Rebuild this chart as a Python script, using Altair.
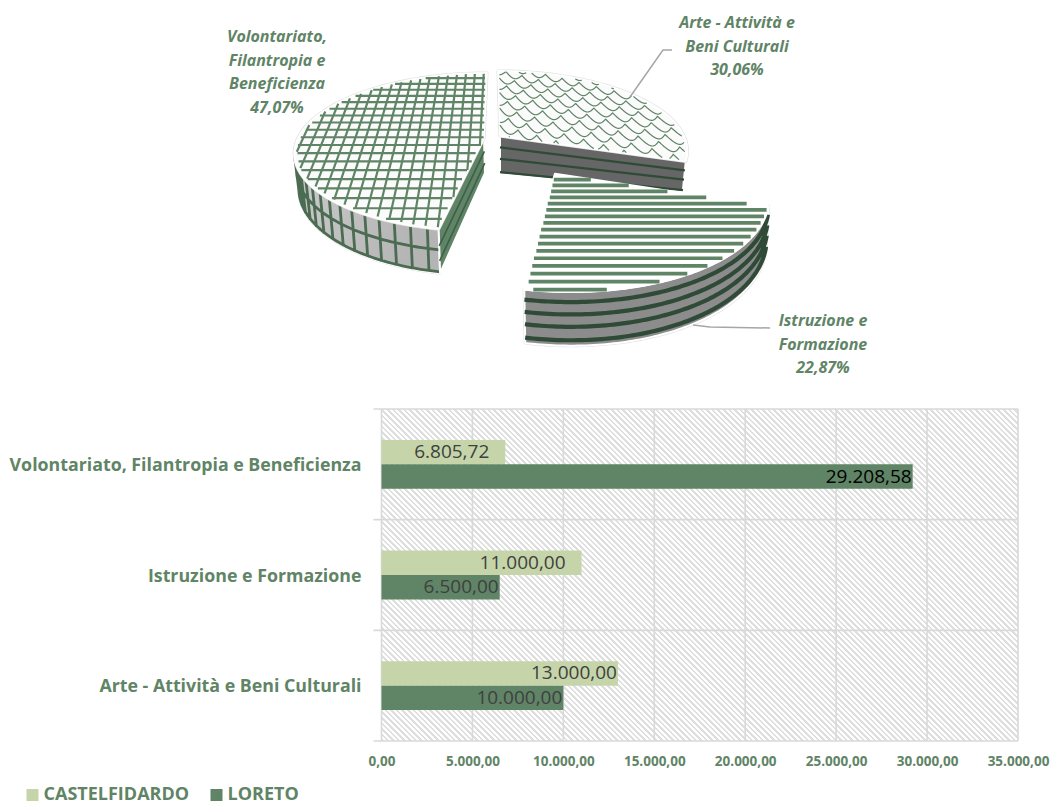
import altair as alt
import numpy as np
import pandas as pd

# ---- values ----
SECTORS = ["Arte - Attività e Beni Culturali", "Istruzione e Formazione",
           "Volontariato, Filantropia e Beneficienza"]
SHARES = [30.06, 22.87, 47.07]

CATEGORIES = ["Volontariato, Filantropia e Beneficienza", "Istruzione e Formazione",
              "Arte - Attività e Beni Culturali"]
SERIES = ["CASTELFIDARDO", "LORETO"]
CASTELFIDARDO = [6805.72, 11000.00, 13000.00]
LORETO = [29208.58, 6500.00, 10000.00]
X_TICKS = [0, 5000, 10000, 15000, 20000, 25000, 30000, 35000]

# ---- palette ----
GREEN = "#5f8466"
PALE = "#c5d5a9"
DARK = "#2f4a37"
RULE = "#d9d9d9"
FONT = "Open Sans"

# ---- page layout: the bar plot area is the view, the pie sits above it ----
PAD_LEFT, PAD_TOP, PAD_RIGHT, PAD_BOTTOM = 381.5, 409, 33, 60
W, H = 636.5, 332

# ---- 3D pie geometry: one perspective disc per exploded slice ----
K = 0.177
SLICE = {
    "arte": dict(ax=500, ay=136, A=184, B=76.5, sh=0.03, d=38, ddx=0, sA=0.985, sB=0.7),
    "istr": dict(ax=555, ay=174, A=208, B=97, sh=0.133, d=42, ddx=-1, sA=0.99, sB=1.1),
    "vol": dict(ax=484, ay=138, A=186, B=76.5, sh=-0.045, d=35, ddx=1, sA=0.98, sB=1.1),
}


def project(s, X, Y, bottom=False):
    X, Y = np.asarray(X, float), np.asarray(Y, float)
    w = 1 + K * Y
    A, B = s["A"], s["B"]
    ax, ay = s["ax"], s["ay"]
    if bottom:
        A, B = A * s["sA"], B * s["sB"]
        ax, ay = ax + s["ddx"], ay + s["d"]
    dy = -B * Y / w
    return np.column_stack([ax + A * X / w + s["sh"] * dy, ay + dy])


def rim(s, t0, t1, bottom=False, n=90):
    t = np.radians(np.linspace(t0, t1, n))
    return project(s, np.sin(t), np.cos(t), bottom)


def feature(kind, coords):
    return {"type": "Feature", "properties": {}, "geometry": {"type": kind, "coordinates": coords}}


def shape(geom, **mark):
    return (alt.Chart(alt.Data(values=[geom]))
            .mark_geoshape(clip=False, **mark)
            .project(type="identity", scale=1, translate=[-PAD_LEFT, -PAD_TOP]))


def polygon(pts, fill, stroke="#ffffff", width=2.0):
    ring = [list(map(float, p)) for p in pts]
    ring.append(ring[0])
    return shape(feature("Polygon", [ring]), fill=fill, stroke=stroke, strokeWidth=width,
                 strokeJoin="round")


def lines(paths, color, width):
    coords = [[list(map(float, p)) for p in path] for path in paths if len(path) > 1]
    return shape(feature("MultiLineString", coords), filled=False, stroke=color,
                 strokeWidth=width, strokeCap="butt")


def clipped(s, X, Y, t0, t1, margin=0.012):
    """Keep the runs of a world-space polyline that lie on the slice's top face."""
    X, Y = np.asarray(X, float), np.asarray(Y, float)
    ang = (np.degrees(np.arctan2(X, Y))) % 360
    inside = (np.hypot(X, Y) < 1 - margin) & (ang > t0 + 0.4) & (ang < t1 - 0.4)
    runs, start = [], None
    for i, ok in enumerate(list(inside) + [False]):
        if ok and start is None:
            start = i
        elif not ok and start is not None:
            if i - start > 1:
                runs.append(project(s, X[start:i], Y[start:i]))
            start = None
    return runs


def gray(c0, c1):
    return alt.LinearGradient(gradient="linear", x1=0, y1=0, x2=1, y2=0.3,
                              stops=[alt.GradientStop(color=c0, offset=0),
                                     alt.GradientStop(color=c1, offset=1)])


angles = np.cumsum([0] + SHARES) * 3.6
arte_t = (angles[0], angles[1])
istr_t = (angles[1], angles[2])
vol_t = (angles[2], angles[3])

sa, si, sv = SLICE["arte"], SLICE["istr"], SLICE["vol"]
layers = []


def apex(s, bottom=False):
    return project(s, [0.0], [0.0], bottom)[0]


def cut_face(s, t, fill, stripes, color, width):
    top_end = rim(s, t, t, n=1)[0]
    bot_end = rim(s, t, t, bottom=True, n=1)[0]
    a, b = apex(s), apex(s, True)
    out = [polygon([a, top_end, bot_end, b], fill)]
    out.append(lines([[a + (b - a) * f, top_end + (bot_end - top_end) * f] for f in stripes],
                     color, width))
    return out


# Volontariato: rim wall, cut face, top face with a perspective grid
t0, t1 = vol_t
top = rim(sv, t0, 284)
bot = rim(sv, t0, 284, bottom=True)
layers.append(polygon(np.vstack([top, bot[::-1]]), gray("#cccccc", "#b4b4b4"), stroke="#e4e4e4", width=3))
layers.append(polygon(np.vstack([top, bot[::-1]]), gray("#cccccc", "#b4b4b4")))
wall_grid = []
for f in (0.47, 0.97):
    wall_grid.append(top + (bot - top) * f)
for th in np.arange(t0 + 3.0, 282, 4.6):
    wall_grid.append([rim(sv, th, th, n=1)[0], rim(sv, th, th, bottom=True, n=1)[0]])
layers.append(lines(wall_grid, "#4b6b52", 2.8))
layers += cut_face(sv, t0, GREEN, (0.38, 0.72), "#3f5f48", 1.6)
top_pts = np.vstack([[apex(sv)], rim(sv, t0, t1)])
layers.append(polygon(top_pts, "#fbfbfb", stroke="#e2e2e2", width=3.2))
layers.append(polygon(top_pts, "#fbfbfb", width=1.8))
grid = []
sweep = np.linspace(-1.05, 1.05, 500)
for yy in np.arange(-0.99, 1.0, 0.1):
    grid += clipped(sv, sweep, np.full_like(sweep, yy), t0, t1)
for xx in np.arange(-0.02, -1.0, -0.056):
    grid += clipped(sv, np.full_like(sweep, xx), sweep, t0, t1)
layers.append(lines(grid, GREEN, 2.2))

# Arte: cut face, top face with a fish-scale motif
t0, t1 = arte_t
layers += cut_face(sa, t1, "#666666", (0.3, 0.6, 0.95), DARK, 2.2)
top_pts = np.vstack([[apex(sa)], rim(sa, t0, t1)])
layers.append(polygon(top_pts, "#fbfbfb", stroke="#e2e2e2", width=3.2))
layers.append(polygon(top_pts, "#fbfbfb", width=1.8))
scales = []
xs = np.linspace(-0.15, 1.15, 1300)
for row, base in enumerate(np.arange(-1.1, 2.1, 0.125)):
    phase = 0.05 * (row % 2)
    wave = 0.09 * np.abs(np.sin(np.pi * (xs + phase) / 0.1))
    scales += clipped(sa, xs, base - 0.7 * xs - wave, t0, t1)
layers.append(lines(scales, "#5f8466", 1.2))

# Istruzione: rim wall with dark bands, top face with wide stripes
t0, t1 = istr_t
top = rim(si, t0, t1)
bot = rim(si, t0, t1, bottom=True)
layers.append(polygon(np.vstack([top, bot[::-1]]), "#8c8c8c", stroke="#e2e2e2", width=3.2))
layers.append(polygon(np.vstack([top, bot[::-1]]), "#8c8c8c"))
layers.append(lines([top + (bot - top) * f for f in (0.19, 0.42, 0.65, 0.9)], DARK, 4.2))
top_pts = np.vstack([[apex(si)], rim(si, t0, t1)])
layers.append(polygon(top_pts, "#ffffff", width=2.4))
stripes = []
sweep = np.linspace(-0.5, 1.1, 500)
for yy in np.arange(-0.985, 0.33, 0.058):
    stripes += clipped(si, sweep, np.full_like(sweep, yy), t0, t1, margin=0.004)
layers.append(lines(stripes, GREEN, 3.7))

# Leader lines from the labels to their slices
layers.append(lines([[(630, 97), (663, 50), (672, 50)], [(693, 325), (710, 327), (770, 328)]],
                    "#a6a6a6", 1.5))


def share_label(lines_of_text, share, x, y):
    text = lines_of_text + [f"{share:.2f}%".replace(".", ",")]
    return (alt.Chart(alt.Data(values=[{}]))
            .mark_text(text=text, font=FONT, fontSize=16, fontWeight="bold", fontStyle="italic",
                       color=GREEN, lineHeight=23.5, align="center", baseline="top")
            .encode(x=alt.value(x - PAD_LEFT), y=alt.value(y - PAD_TOP)))


layers.append(share_label(["Volontariato,", "Filantropia e", "Beneficienza"], SHARES[2], 277, 29))
layers.append(share_label(["Arte - Attività e", "Beni Culturali"], SHARES[0], 737, 15))
layers.append(share_label(["Istruzione e", "Formazione"], SHARES[1], 823, 313))


# ---- bar chart ----
def hatch(width, height, period=5.6, ink="#dedede"):
    """Diagonal hatching as a hard-stopped gradient running across x - y."""
    span = width + height
    step = period / span
    stops = []
    off = 0.0
    while off < 1:
        a, b = off, min(off + step * 0.45, 1)
        c = min(off + step, 1)
        stops += [alt.GradientStop(color=ink, offset=a), alt.GradientStop(color=ink, offset=b),
                  alt.GradientStop(color="#ffffff", offset=b), alt.GradientStop(color="#ffffff", offset=c)]
        off += step
    dx = span / (width * (1 + (height / width) ** 2))
    dy = -dx * height / width
    return alt.LinearGradient(gradient="linear", x1=0, y1=1, x2=dx, y2=1 + dy, stops=stops)


def euro(v):
    return f"{v:,.2f}".replace(",", "#").replace(".", ",").replace("#", ".")


rows = []
for cat, c_val, l_val in zip(CATEGORIES, CASTELFIDARDO, LORETO):
    rows.append({"cat": cat, "serie": SERIES[0], "val": c_val})
    rows.append({"cat": cat, "serie": SERIES[1], "val": l_val})
bars_df = pd.DataFrame(rows)
bars_df["label"] = bars_df["val"].map(euro)
bars_df["ink"] = np.where(bars_df["val"] > 20000, "#000000", "#404040")
# Two labels sit further inside their bars than the others
bars_df["inset"] = bars_df["val"].isin([6805.72, 11000.00])

x_enc = alt.X("val:Q", scale=alt.Scale(domain=[0, 35000], nice=False, zero=True),
              axis=alt.Axis(title=None, values=X_TICKS, grid=False, domain=False, ticks=False,
                            labelExpr="datum.value == 0 ? '0,00' : format(datum.value / 1000, '.3f') + ',00'",
                            labelFont=FONT, labelFontSize=13.5, labelFontWeight="bold", labelFlush=False,
                            labelColor=GREEN, labelPadding=13))
y_enc = alt.Y("cat:N", sort=CATEGORIES, scale=alt.Scale(paddingInner=0.559, paddingOuter=0.2795),
              axis=alt.Axis(title=None, grid=False, domain=False, ticks=False,
                            labelFont=FONT, labelFontSize=17.8, labelFontWeight="bold", labelOffset=1.5,
                            labelColor=GREEN, labelPadding=20.5, labelLimit=400))
off_enc = alt.YOffset("serie:N", sort=SERIES, scale=alt.Scale(paddingInner=0, paddingOuter=0))

backdrop = (alt.Chart(alt.Data(values=[{}])).mark_rect(fill=hatch(W, H))
            .encode(x=alt.value(0), x2=alt.value(W), y=alt.value(0), y2=alt.value(H)))
v_rules = (alt.Chart(pd.DataFrame({"tick": X_TICKS})).mark_rule(color=RULE, strokeWidth=1.6)
           .encode(x=alt.X("tick:Q")))
# Band separators run a little past the axis, standing in for tick marks
h_rules = [alt.Chart(alt.Data(values=[{}])).mark_rule(color=RULE, strokeWidth=1.6)
           .encode(x=alt.value(-8), x2=alt.value(W), y=alt.value(H * i / len(CATEGORIES)))
           for i in range(len(CATEGORIES) + 1)]

bars = alt.Chart(bars_df).mark_bar().encode(
    x=x_enc, y=y_enc, yOffset=off_enc,
    color=alt.Color("serie:N", sort=SERIES,
                    scale=alt.Scale(domain=SERIES, range=[PALE, GREEN]),
                    legend=alt.Legend(title=None, orient="none", direction="horizontal",
                                      legendX=-358, legendY=377, symbolType="square", symbolSize=144,
                                      symbolStrokeWidth=0, symbolOpacity=1, labelFont=FONT, labelFontSize=18,
                                      labelFontWeight="bold", labelColor=GREEN, labelOffset=2,
                                      columnPadding=18, labelLimit=300)),
)


def value_text(frame, dx):
    return alt.Chart(frame).mark_text(font=FONT, fontSize=19, align="right", baseline="middle", dx=dx).encode(
        x=alt.X("val:Q"), y=alt.Y("cat:N", sort=CATEGORIES), yOffset=off_enc,
        text="label:N", color=alt.Color("ink:N", scale=None),
    )


chart = (alt.layer(
    backdrop, v_rules, *h_rules, bars,
    value_text(bars_df[~bars_df["inset"]], -1),
    value_text(bars_df[bars_df["inset"]], -16),
    *layers,
).properties(width=W, height=H, background="#ffffff",
             autosize=alt.AutoSizeParams(type="none"),
             padding={"left": PAD_LEFT, "top": PAD_TOP, "right": PAD_RIGHT, "bottom": PAD_BOTTOM})
 .configure_view(strokeWidth=0))

chart.save("out.html", embed_options={"renderer": "svg", "actions": False})
